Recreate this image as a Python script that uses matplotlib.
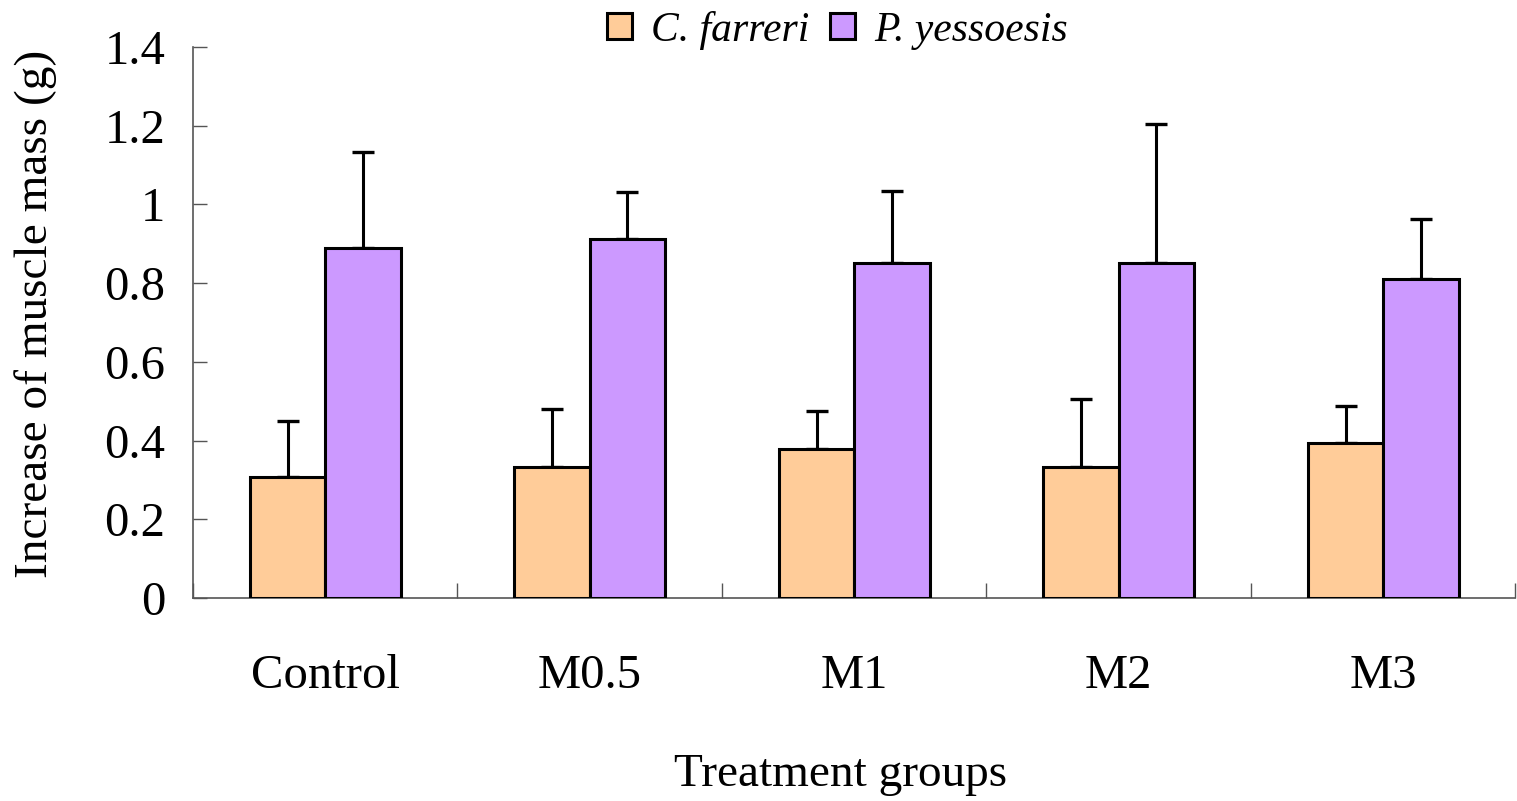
import numpy as np
import matplotlib
matplotlib.use('Agg')
import matplotlib.pyplot as plt

plt.rcParams['font.family'] = ['Liberation Serif', 'DejaVu Serif']

groups = ['Control', 'M0.5', 'M1', 'M2', 'M3']
farreri = [0.307, 0.333, 0.379, 0.333, 0.394]
farreri_err = [0.143, 0.147, 0.096, 0.173, 0.094]
yesso = [0.889, 0.912, 0.851, 0.851, 0.810]
yesso_err = [0.244, 0.119, 0.183, 0.353, 0.153]

fig = plt.figure(figsize=(15.17, 8.01), dpi=100)
ax = fig.add_axes([0.1272, 0.2534, 0.8718, 0.6879])

x = np.arange(len(groups))
w = 0.285
zeros = np.zeros(len(groups))

ax.bar(x - w / 2, farreri, w, color='#FFCC99', edgecolor='black', linewidth=2.2,
       label='C. farreri', zorder=3)
ax.bar(x + w / 2, yesso, w, color='#CC99FF', edgecolor='black', linewidth=2.2,
       label='P. yessoesis', zorder=3)
ax.errorbar(x - w / 2, farreri, yerr=[zeros, farreri_err], fmt='none', ecolor='black',
            elinewidth=2.2, capsize=8, capthick=2.4, zorder=2)
ax.errorbar(x + w / 2, yesso, yerr=[zeros, yesso_err], fmt='none', ecolor='black',
            elinewidth=2.2, capsize=8, capthick=2.4, zorder=2)

ax.set_xlim(-0.5, len(groups) - 0.5)
ax.set_ylim(0, 1.4)
ax.set_yticks(np.arange(0, 1.41, 0.2))
ax.set_yticklabels(['0', '0.2', '0.4', '0.6', '0.8', '1', '1.2', '1.4'])
ax.set_xticks(x)
ax.set_xticklabels(groups)
ax.set_xticks(np.arange(-0.5, len(groups)), minor=True)

ax.tick_params(axis='y', direction='in', length=10, width=1, color='#555555',
               labelsize=35, pad=20)
ax.tick_params(axis='x', which='major', length=0, labelsize=35, pad=40)
ax.tick_params(axis='x', which='minor', direction='in', length=11, width=1,
               color='#555555')

for s in ['top', 'right']:
    ax.spines[s].set_visible(False)
for s in ['left', 'bottom']:
    ax.spines[s].set_color('#555555')
    ax.spines[s].set_linewidth(1.2)

ax.set_ylabel('Increase of muscle mass (g)', fontsize=34)
ax.yaxis.set_label_coords(-0.103, 0.515)
ax.set_xlabel('Treatment groups', fontsize=34, va='top')
ax.xaxis.set_label_coords(0.49, -0.283)

fig.legend(loc='center', bbox_to_anchor=(0.552, 0.962), ncol=2, frameon=False,
           prop={'size': 30, 'style': 'italic'}, handlelength=0.6, handleheight=0.6,
           handletextpad=0.45, columnspacing=0.5)

fig.savefig('out.png', dpi=100)
